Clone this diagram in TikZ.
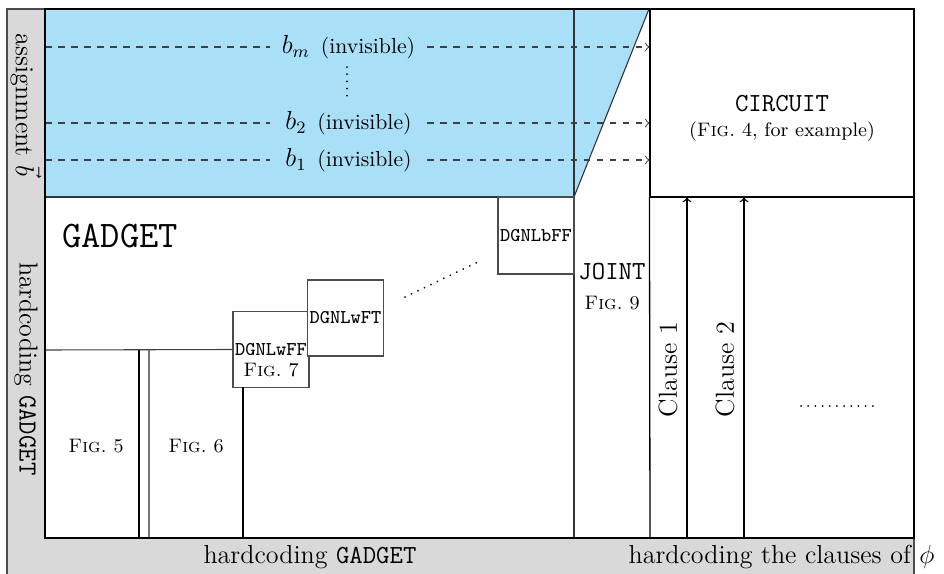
\documentclass[tikz,border=0pt]{standalone}
\usetikzlibrary{calc}
\definecolor{skyfill}{RGB}{170,223,248}
\definecolor{stripgray}{RGB}{217,217,217}
\begin{document}
\begin{tikzpicture}[x=0.4608pt,y=-0.4608pt,
  thinline/.style={draw=black!75, line width=0.5pt},
  frameline/.style={draw=black, line width=0.9pt},
  boxnode/.style={draw=black!70, line width=0.5pt, fill=white, inner sep=0pt},
  dgbox/.style={boxnode, minimum width=76*0.4608pt, minimum height=76*0.4608pt, font=\small\ttfamily},
  bigtxt/.style={font=\large, inner sep=0pt},
  figtxt/.style={font=\small, inner sep=0pt},
  dotline/.style={line width=0.9pt, dash pattern=on 0.01pt off 3.3pt, line cap=round},
  bline/.style={dashed, draw=black!75, line width=0.5pt},
  blabel/.style={minimum width=157*0.4608pt, inner sep=0pt},
  clausearrow/.style={draw=black, line width=0.6pt, ->},
]
\useasboundingbox (0,0) rectangle (944,574);
% gray strips and main area
\filldraw[fill=stripgray, draw=black!70, line width=0.6pt] (7,9) rectangle (914,600);
\fill[white] (45,9) rectangle (914,538);
\fill[skyfill] (45,9) -- (649,9) -- (574,197) -- (45,197) -- cycle;

% CIRCUIT box
\node[boxnode, fill=none, draw=black, minimum width=264*0.4608pt, minimum height=188*0.4608pt] (circuit) at (782,103) {};
\node[inner sep=0pt, font=\large\ttfamily] (circtxt) at (782,104) {CIRCUIT};
\node[figtxt] (circfig) at (782,132) {(\textsc{Fig.}~4, for example)};

% structure lines
\coordinate (jtop) at (574,9);
\coordinate (jbot) at (574,538);
\coordinate (slanttop) at (649,9);
\coordinate (slantbot) at (574,197);
\coordinate (gadtl) at (45,197);
\coordinate (cbot) at (650,538);
\draw[thinline, draw=black!80] (jtop) -- (jbot);
\draw[thinline, draw=black!80] (slanttop) -- (slantbot);
\draw[thinline, draw=black!80] (gadtl) -- (slantbot);
\draw[frameline, line width=0.6pt] (circuit.south west) -- (cbot);

% dashed assignment lines
\foreach \nm/\yy/\txt in {bm/47/m, btwo/123/2, bone/160/1}{
  \coordinate (\nm l) at (45,\yy);
  \node[blabel] (\nm) at (348.5,\yy) {\large$b_{\txt}$\hspace{5pt}\normalsize(invisible)};
  \draw[bline] (\nm l) -- (\nm.west);
  \draw[bline, ->] (\nm.east) -- (\nm.east -| circuit.west);
}
\coordinate (vdtop) at (347,67);
\coordinate (vdbot) at (347,96);
\draw[dotline] (vdtop) -- (vdbot);

% GADGET area
\node[inner sep=0pt, font=\LARGE\ttfamily] (gadget) at (120,236) {GADGET};
\node[dgbox] (wff) at (271,349.5) {};
\node[font=\small, inner sep=0pt, align=center] (wfftxt) at (271,360) {\texttt{DGNLwFF}\\[-1pt]\textsc{Fig.}~7};
\node[dgbox] (wft) at (345.5,318) {DGNLwFT};
\node[dgbox, minimum height=77*0.4608pt] (bff) at (536,235.5) {DGNLbFF};
\coordinate (dd1) at (405,297);
\coordinate (dd2) at (480,261);
\draw[dotline] (dd1) -- (dd2);

\coordinate (hl) at (45,350);
\draw[thinline] (hl) -- (wff.west);
\coordinate (v1t) at (139,350);
\coordinate (v1b) at (139,538);
\coordinate (v2t) at (149,350);
\coordinate (v2b) at (149,538);
\draw[thinline, draw=black] (v1t) -- (v1b);
\draw[thinline, draw=black!55] (v2t) -- (v2b);
\coordinate (v3t) at (243,387);
\coordinate (v3b) at (243,538);
\draw[thinline, draw=black] (v3t) -- (v3b);
\node[figtxt] (f5) at (96,446) {\textsc{Fig.}~5};
\node[figtxt] (f6) at (196,446) {\textsc{Fig.}~6};

% JOINT
\node[inner sep=0pt, font=\large\ttfamily] (joint) at (612,272) {JOINT};
\node[figtxt] (f9) at (612,303) {\textsc{Fig.}~9};

% clauses
\coordinate (c1b) at (687,538);
\coordinate (c2b) at (744,538);
\draw[clausearrow] (c1b) -- (c1b |- circuit.south);
\draw[clausearrow] (c2b) -- (c2b |- circuit.south);
\node[bigtxt, rotate=90] (cl1) at (668,369.5) {Clause 1};
\node[bigtxt, rotate=90] (cl2) at (725,369.5) {Clause 2};
\coordinate (hd1) at (801,406);
\coordinate (hd2) at (877,406);
\draw[dotline] (hd1) -- (hd2);

% main frame
\draw[frameline] (45,9) rectangle (914,538);

% strip labels
\node[bigtxt, rotate=-90] (assign) at (26,105) {assignment $\vec{b}$};
\node[bigtxt, rotate=-90] (hardl) at (26,369) {hardcoding \texttt{GADGET}};
\node[bigtxt] (hardb) at (310,557) {hardcoding \texttt{GADGET}};
\node[bigtxt] (hardc) at (781.5,557) {hardcoding the clauses of $\phi$};
\end{tikzpicture}
\end{document}
